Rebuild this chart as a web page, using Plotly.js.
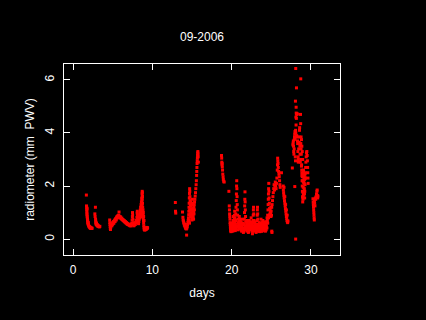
<!DOCTYPE html>
<html>
<head>
<meta charset="utf-8">
<script src="https://cdn.plot.ly/plotly-3.0.1.min.js"></script>
<style>html,body{margin:0;padding:0;background:#000;}#chart{width:426px;height:320px;}</style>
</head>
<body>
<div id="chart"></div>
<script>
// Radiometer PWV samples, September 2006: [day, mm PWV]
const segA = [[1.68,1.66],[1.70,1.25],[1.72,1.20],[1.73,1.12],[1.74,1.05],[1.75,0.98],[1.76,0.92],[1.77,1.15],[1.78,0.86],[1.80,0.80],[1.82,0.74],[1.84,0.70],[1.86,0.64],[1.88,0.60],[1.90,0.56],[1.92,0.62],[1.95,0.54],[1.98,0.50],[2.02,0.48],[2.06,0.45],[2.10,0.47],[2.14,0.43],[2.18,0.41],[2.22,0.44],[2.26,0.40],[2.30,0.42],[2.35,0.40],[2.40,0.41],
[2.75,0.95],[2.78,0.85],[2.82,1.20],[2.84,0.75],[2.86,0.68],[2.88,0.62],[2.90,0.58],[2.93,0.55],[2.96,0.60],[3.00,0.52],[3.05,0.55],[3.10,0.50],[3.15,0.48],[3.20,0.50],[3.26,0.47],[3.32,0.46],[3.38,0.48]];

const segB = [[4.62,0.72],[4.64,0.62],[4.66,0.55],[4.68,0.48],[4.70,0.40],[4.72,0.36],[4.76,0.45],[4.80,0.52],[4.85,0.58],[4.90,0.50],[4.95,0.55],[5.00,0.62],[5.05,0.58],[5.10,0.66],[5.15,0.60],[5.20,0.68],[5.25,0.72],[5.30,0.66],[5.35,0.75],[5.40,0.78],[5.45,0.72],[5.50,0.82],[5.55,0.85],[5.60,0.80],[5.65,0.88],[5.70,0.84],[5.75,0.90],[5.80,1.02],[5.85,0.86],[5.90,0.82],[5.95,0.80],[6.00,0.84],[6.05,0.78],[6.10,0.76],[6.15,0.79],[6.20,0.74],[6.25,0.72],[6.30,0.74],[6.35,0.70],[6.40,0.68],[6.45,0.70],[6.50,0.66],[6.55,0.64],[6.60,0.66],[6.65,0.62],[6.70,0.60],[6.75,0.62],[6.80,0.58],[6.85,0.56],[6.90,0.58],[6.95,0.55],[7.00,0.54],[7.05,0.56],[7.10,0.52],[7.15,0.54],[7.20,0.50],[7.25,0.52],[7.30,0.50],[7.35,0.55],[7.40,0.60],[7.45,0.72],[7.48,0.85],[7.50,1.00],[7.52,0.90],[7.55,0.75],[7.58,0.62],[7.62,0.55],[7.66,0.50],[7.70,0.52],[7.75,0.56],[7.80,0.60],[7.85,0.55],[7.90,0.62],[7.95,0.70],[8.00,0.66],[8.05,0.82],[8.08,0.98],[8.10,1.05],[8.12,0.92],[8.15,0.80],[8.18,0.72],[8.22,0.62],[8.26,0.58],[8.30,0.66],[8.34,0.75],[8.38,0.82],[8.42,0.90],[8.45,1.00],[8.48,1.10],[8.50,0.95],[8.52,1.20],[8.55,1.05],[8.58,1.30],[8.60,1.15],[8.62,1.40],[8.64,1.25],[8.66,1.55],[8.68,1.45],[8.70,1.70],[8.72,1.80],[8.74,1.62],[8.76,1.35],[8.78,1.20],[8.80,1.00],[8.82,1.10],[8.84,0.90],[8.86,0.80],[8.88,0.70],[8.90,0.60],[8.92,0.50],[8.95,0.42],[8.98,0.36],[9.02,0.34],[9.06,0.38],[9.10,0.35],[9.14,0.40],[9.18,0.36],[9.22,0.42],[9.26,0.38],[9.30,0.44],[9.35,0.40],[9.40,0.43],
[8.45,0.80],[8.50,0.85],[8.55,0.95],[8.60,0.88],[8.65,1.00],[8.70,1.10],[8.75,1.05],[8.80,0.85],[8.85,1.00],[8.90,0.85],[8.95,0.70],[8.70,1.30],[8.72,1.50],[8.74,1.75],[8.76,1.60]];

const segC = [[12.90,1.38],[12.92,1.05],[12.95,0.98],[13.80,1.02],[13.85,0.82],[13.88,0.72],[13.92,0.68],[13.96,0.62],[14.00,0.58],[14.04,0.52],[14.08,0.55],[14.12,0.48],[14.16,0.45],[14.20,0.42],[14.24,0.40],[14.28,0.38],[14.32,0.15],[14.30,0.45],[14.36,0.42],[14.40,0.48],[14.44,0.55],[14.48,0.62],[14.52,0.70],[14.55,0.80],[14.58,0.92],[14.60,1.05],[14.62,1.20],[14.64,1.35],[14.66,1.55],[14.68,1.72],[14.70,1.90],[14.72,1.80],[14.74,1.60],[14.76,1.45],[14.80,1.30],[14.84,1.15],[14.88,1.00],[14.92,0.90],[14.96,0.80],[15.00,0.72],[15.04,0.85],[15.08,0.95],[15.12,1.05],[15.16,1.15],[15.20,1.02],[15.24,1.20],[15.28,1.30],[15.32,1.40],[15.36,1.50],[15.40,1.62],[15.44,1.75],[15.48,1.90],[15.52,2.05],[15.55,2.20],[15.58,2.40],[15.60,2.55],[15.62,2.70],[15.64,2.85],[15.66,2.95],[15.68,3.05],[15.70,3.15],[15.72,3.25],[15.74,3.30],[15.76,3.20],[15.78,3.10],[15.80,2.90],
[14.70,1.10],[14.75,0.95],[14.80,0.85],[14.85,1.40],[14.90,1.25],[14.95,1.10],[15.00,1.30],[15.05,1.50],[15.10,1.35],[15.15,0.85],[15.20,0.75],[15.25,0.95],[15.30,1.10],[14.65,0.70],[14.68,0.60]];

const segD = [[18.72,3.15],[18.74,3.05],[18.76,2.90],[18.78,2.80],[18.80,2.85],[18.82,2.72],[18.85,2.60],[18.88,2.45],[18.92,2.35],[18.95,2.25],[19.00,2.18],[19.05,2.15]];

const segE = [[19.65,1.80],[19.70,1.25],[19.72,1.10],[19.74,0.95],[19.76,0.85],[19.78,0.75],[19.80,0.62],[19.82,0.55],[19.84,0.45],[19.86,0.38],[19.88,0.32],[19.90,0.28],[19.92,0.40],[19.95,0.50],[19.98,0.35],[20.00,0.30],[20.02,0.45],[20.05,0.60],[20.08,0.50],[20.10,0.40],[20.12,0.35],[20.15,0.55],[20.18,0.70],[20.20,0.85],[20.22,0.65],[20.25,0.50],[20.28,0.45],[20.30,0.60],[20.32,0.75],[20.35,0.90],[20.38,1.05],[20.40,0.80],[20.42,0.60],[20.45,0.45],[20.48,0.55],[20.50,0.70],[20.52,0.95],[20.55,1.20],[20.58,1.45],[20.60,1.70],[20.62,2.00],[20.64,2.20],[20.66,1.90],[20.68,1.60],[20.70,1.30],[20.72,1.10],[20.75,0.90],[20.78,0.75],[20.80,0.60],[20.83,0.50],[20.86,0.45],[20.90,0.55],[20.93,0.70],[20.96,0.85],[21.00,0.75],[21.03,0.60],[21.06,0.50],[21.10,0.40],[21.13,0.55],[21.16,0.65],[21.20,0.50],[21.24,0.45],[21.28,0.60],[21.32,0.75],[21.36,0.55],[21.40,0.40],[21.44,0.30],[21.48,0.25],[21.52,0.40],[21.56,0.55],[21.60,0.75],[21.62,1.00],[21.64,1.25],[21.66,1.50],[21.68,1.78],[21.70,1.40],[21.72,1.10],[21.75,0.85],[21.78,0.65],[21.82,0.50],[21.86,0.40],[21.90,0.55],[21.94,0.70],[21.98,0.60],[22.02,0.45],[22.06,0.35],[22.10,0.25],[22.14,0.40],[22.18,0.55],[22.22,0.70],[22.26,0.60],[22.30,0.45],[22.34,0.35],[22.38,0.50],[22.42,0.65],[22.46,0.80],[22.50,0.60],[22.54,0.45],[22.58,0.30],[22.62,0.20],[22.66,0.45],[22.70,0.70],[22.72,0.90],[22.74,1.10],[22.76,1.20],[22.78,0.95],[22.80,0.70],[22.84,0.50],[22.88,0.40],[22.92,0.55],[22.96,0.65],[23.00,0.50],[23.04,0.35],[23.08,0.25],[23.12,0.40],[23.16,0.55],[23.20,0.70],[23.22,0.90],[23.24,1.10],[23.26,1.20],[23.28,0.95],[23.30,0.75],[23.34,0.55],[23.38,0.40],[23.42,0.30],[23.46,0.45],[23.50,0.60],[23.54,0.50],[23.58,0.35],[23.62,0.45],[23.66,0.60],[23.70,0.75],[23.74,0.55],[23.78,0.40],[23.82,0.30],[23.86,0.45],[23.90,0.55],[23.94,0.70],[23.98,0.60],[24.02,0.45],[24.06,0.35],[24.10,0.50],[24.14,0.65],[24.18,0.55],[24.22,0.40],[24.26,0.30],[24.30,0.45],[24.34,0.60],[24.38,0.50],[24.42,0.65],[24.46,0.80],[24.50,0.70],[24.54,0.90],[24.58,1.10],[24.60,1.30],[24.62,1.50],[24.64,1.70],[24.66,1.90],[24.68,2.10],[24.70,1.80],[24.72,1.55],[24.75,1.35],[24.78,1.15],[24.82,0.95],[24.86,0.85],[24.90,1.00],[24.94,1.20],[24.98,1.05],[25.02,0.90],[25.06,0.30],[25.08,0.25],
[20.05,0.35],[20.15,0.30],[20.25,0.38],[20.35,0.42],[20.45,0.32],[20.55,0.40],[20.65,0.48],[20.75,0.35],[20.85,0.62],[20.95,0.40],[21.05,0.70],[21.15,0.35],[21.25,0.30],[21.35,0.42],[21.45,0.60],[21.55,0.30],[21.65,0.45],[21.75,0.35],[21.85,0.65],[21.95,0.30],[22.05,0.55],[22.15,0.28],[22.25,0.45],[22.35,0.62],[22.45,0.38],[22.55,0.52],[22.65,0.30],[22.75,0.40],[22.85,0.60],[22.95,0.30],[23.05,0.48],[23.15,0.32],[23.25,0.45],[23.35,0.30],[23.45,0.62],[23.55,0.28],[23.65,0.40],[23.75,0.30],[23.85,0.62],[23.95,0.38],[24.05,0.55],[24.15,0.32],[24.25,0.50],[24.35,0.35],[24.45,0.42],[24.55,0.60],[24.65,0.80],[24.75,0.90],[24.85,1.10],[24.95,0.85]];

const segF = [[25.05,1.20],[25.10,1.30],[25.15,1.45],[25.20,1.60],[25.25,1.75],[25.30,1.90],[25.35,2.05],[25.40,1.85],[25.45,2.00],[25.50,2.15],[25.55,2.00],[25.60,1.90],[25.65,2.10],[25.70,2.30],[25.75,2.60],[25.78,2.80],[25.80,3.05],[25.82,2.95],[25.85,2.85],[25.88,2.70],[25.92,2.55],[25.96,2.45],[26.00,2.35],[26.04,2.20],[26.08,2.05],[26.12,1.95],[26.28,2.50],
[26.50,2.00],[26.52,1.85],[26.55,1.75],[26.58,1.65],[26.62,1.55],[26.66,1.45],[26.70,1.35],[26.74,1.25],[26.78,1.15],[26.82,1.05],[26.86,0.95],[26.90,0.85],[26.94,0.78],[26.98,0.70],[27.02,0.65],[27.06,0.62],[27.10,0.68],[26.60,1.95],[26.70,1.60],[26.80,1.30],[26.90,1.10],[27.00,0.90]];

const segG = [[27.65,2.68],[27.72,3.55],[27.75,3.62],[27.78,3.70],[27.80,3.50],[27.82,3.30],[27.85,3.20],[27.88,3.40],[27.90,3.75],[27.92,3.85],[27.95,3.95],[27.96,1.98],[27.98,4.05],[28.00,3.80],[28.02,3.10],[28.04,5.20],[28.05,2.95],[28.06,4.10],[28.07,0.00],[28.08,6.43],[28.09,4.00],[28.10,4.60],[28.12,4.30],[28.13,4.97],[28.14,4.75],[28.16,4.55],[28.17,5.70],[28.18,4.72],[28.20,3.90],[28.22,4.70],[28.25,3.85],[28.28,4.72],[28.30,3.70],[28.32,3.60],[28.35,3.30],[28.38,3.10],[28.40,2.90],[28.42,3.00],[28.45,3.40],[28.48,3.60],[28.50,3.85],[28.52,3.65],[28.55,4.10],[28.57,4.20],[28.60,3.50],[28.62,3.20],[28.65,2.90],[28.68,4.70],[28.70,4.35],[28.71,6.04],[28.72,3.60],[28.75,3.40],[28.78,3.20],[28.80,3.00],[28.82,2.80],[28.84,2.60],[28.86,2.40],[28.88,2.20],[28.90,2.00],[28.92,1.80],[28.94,1.60],[28.96,1.40],[28.98,1.55],[29.00,1.75],[29.02,1.95],[29.04,2.15],[29.06,2.35],[29.08,2.55],[29.10,2.45],[29.12,2.30],[29.14,2.10],[29.16,1.90],[29.18,1.70],[29.20,1.55],[29.22,1.80],[29.25,2.05],[29.28,2.30],[29.30,2.50],[29.33,2.70],[29.36,2.90],[29.40,3.10],[29.44,3.25],[29.48,3.30],[29.52,3.15],[29.55,2.95],[29.58,2.70],[29.60,2.50],[29.62,2.30],[29.64,2.10],
[28.85,2.50],[28.90,2.35],[28.95,2.20],[29.00,2.45],[29.05,2.60],[29.10,2.15],[29.15,2.40],[29.20,2.25],[29.25,2.45],[29.30,2.30],[28.80,2.75],[29.00,1.50],[29.05,1.65],[29.10,1.80],[28.95,3.00],[28.90,3.30],[28.85,3.50],[28.80,3.75],[28.75,3.85]];

const segH = [[30.25,1.52],[30.28,1.40],[30.30,1.30],[30.32,1.20],[30.34,1.10],[30.36,1.00],[30.38,0.90],[30.40,0.80],[30.42,0.72],[30.44,1.45],[30.46,1.35],[30.50,1.25],[30.55,1.55],[30.60,1.50],[30.65,1.60],[30.70,1.70],[30.75,1.80],[30.78,1.85],[30.80,1.65],[30.85,1.55],[30.88,1.62]];

const segments = [segA, segB, segC, segD, segE, segF, segG, segH];
const days = [], pwv = [];
segments.forEach(s => s.forEach(p => { days.push(p[0]); pwv.push(p[1]); }));

const xTicks = [0, 10, 20, 30];
const yTicks = [0, 2, 4, 6];

const font = {family: 'Liberation Sans, Arial, sans-serif', size: 12, color: '#ffffff'};

const trace = {
  x: days, y: pwv, type: 'scatter', mode: 'markers',
  marker: {symbol: 'square', size: 3, color: '#ff0000', line: {width: 0}},
  hoverinfo: 'skip'
};

const axisCommon = {
  showgrid: false, zeroline: false, showline: true, linecolor: '#ffffff', linewidth: 1,
  mirror: 'ticks', ticks: 'inside', ticklen: 6, tickwidth: 1, tickcolor: '#ffffff',
  tickfont: font, fixedrange: true
};

const layout = {
  width: 426, height: 320,
  paper_bgcolor: '#000000', plot_bgcolor: '#000000',
  margin: {l: 64, r: 86, t: 64, b: 65, pad: 0},
  showlegend: false, hovermode: false,
  font: font,
  title: {text: '09-2006', font: font, x: 0.5, xref: 'paper', y: 1 - 37/320, yref: 'container', yanchor: 'middle'},
  xaxis: Object.assign({}, axisCommon, {
    range: [-1.14, 33.66], tickvals: xTicks, ticktext: xTicks.map(String),
    ticklabelstandoff: 4,
    title: {text: 'days', font: font, standoff: 12}
  }),
  yaxis: Object.assign({}, axisCommon, {
    range: [-0.6, 6.6], tickvals: yTicks, ticktext: yTicks.map(String), tickangle: -90,
    ticklabelstandoff: 4,
    title: {text: 'radiometer (mm  PWV)', font: font, standoff: 6}
  })
};

Plotly.newPlot('chart', [trace], layout, {staticPlot: true, displayModeBar: false});
</script>
</body>
</html>
